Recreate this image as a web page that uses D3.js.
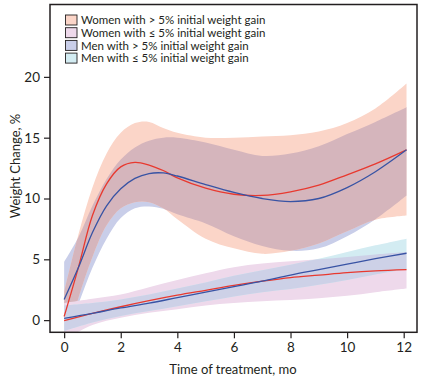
<!DOCTYPE html>
<html><head><meta charset="utf-8">
<script src="https://cdn.jsdelivr.net/npm/d3@7"></script>
<style>
html,body{margin:0;padding:0;background:#fff;}
svg text{font-family:Lato,"Open Sans",sans-serif;fill:#231f20;}
</style></head>
<body><svg id="c" width="422" height="379"></svg>
<script>
// ---- data ----
const xTicks = [0, 2, 4, 6, 8, 10, 12];
const yTicks = [0, 5, 10, 15, 20];
const seriesNames = [
  "Women with > 5% initial weight gain",
  "Women with \u2264 5% initial weight gain",
  "Men with > 5% initial weight gain",
  "Men with \u2264 5% initial weight gain"
];
// Women > 5%
const wHiT   = [0, 0.5, 1, 1.5, 2, 2.5, 3, 3.5, 4, 5, 6, 7, 8, 9, 10, 11, 12.1];
const wHiMean= [0.3, 4.3, 8.6, 11.2, 12.6, 12.97, 12.75, 12.3, 11.7, 10.85, 10.35, 10.25, 10.55, 11.1, 11.95, 12.85, 14.0];
const wHiUp  = [2.3, 7.0, 10.9, 13.7, 15.4, 16.2, 16.3, 15.8, 15.4, 15.0, 15.0, 15.1, 15.2, 15.5, 16.2, 17.4, 19.45];
const wHiLo  = [-2.5, 1.8, 5.2, 7.8, 9.2, 9.7, 9.7, 9.2, 8.3, 6.7, 5.9, 5.45, 5.7, 6.3, 7.3, 8.25, 8.6];
// Men > 5%
const mHiT   = [0, 0.5, 1, 1.5, 2, 2.5, 3, 3.5, 4, 5, 6, 7, 8, 9, 10, 11, 12.1];
const mHiMean= [1.7, 4.3, 7.2, 9.4, 10.8, 11.65, 12.05, 12.1, 11.85, 11.15, 10.5, 10.0, 9.75, 10.0, 10.9, 12.2, 14.0];
const mHiUp  = [4.8, 6.8, 9.4, 11.6, 13.2, 14.2, 14.75, 15.0, 15.0, 14.6, 14.0, 13.5, 13.7, 14.3, 15.3, 16.3, 17.5];
const mHiLo  = [-1.6, 1.3, 4.3, 6.7, 8.4, 9.2, 9.35, 9.15, 8.7, 7.95, 6.9, 6.1, 5.7, 5.9, 6.9, 8.3, 10.25];
// Women <= 5%
const wLoT   = [0, 1, 2, 3, 4, 5, 6, 7, 8, 9, 10, 11, 12.1];
const wLoMean= [-0.05, 0.55, 1.1, 1.6, 2.05, 2.45, 2.85, 3.2, 3.5, 3.7, 3.9, 4.05, 4.15];
const wLoUp  = [1.4, 1.75, 2.1, 2.7, 3.3, 3.85, 4.35, 4.65, 4.85, 5.0, 5.2, 5.4, 5.6];
const wLoLo  = [-1.6, -0.4, 0.2, 0.6, 0.9, 1.2, 1.4, 1.55, 1.65, 1.8, 2.0, 2.3, 2.6];
// Men <= 5%
const mLoT   = [0, 1, 2, 3, 4, 5, 6, 7, 8, 9, 10, 11, 12.1];
const mLoMean= [0.15, 0.55, 1.0, 1.4, 1.85, 2.3, 2.75, 3.2, 3.7, 4.15, 4.6, 5.05, 5.5];
const mLoUp  = [1.2, 1.4, 1.7, 2.1, 2.6, 3.1, 3.65, 4.1, 4.55, 5.05, 5.6, 6.15, 6.7];
const mLoLo  = [-0.9, -0.2, 0.35, 0.75, 1.15, 1.55, 1.95, 2.3, 2.55, 2.9, 3.3, 3.75, 4.2];

// ---- layout ----
const L = 50, R = 417, T = 4.5, B = 332.3;
const x = d3.scaleLinear().domain([-0.5, 12.47]).range([L, R]);
const y = d3.scaleLinear().domain([-1, 25.95]).range([B, T]);
const svg = d3.select("#c");

const col = {
  peach: "#fbd5c8", lav: "#c9cee9", mauve: "#d5b5bc",
  pink: "#eed9eb", cyan: "#d3ecf2", lowOv: "#cdd1e7",
  red: "#e8392f", blue: "#3853a4"
};

const defs = svg.append("defs");
defs.append("clipPath").attr("id", "plotClip").append("rect")
  .attr("x", L).attr("y", T).attr("width", R - L).attr("height", B - T);

function rows(t, m, u, l) { return t.map((v, i) => ({ t: v, m: m[i], u: u[i], l: l[i] })); }
const wHi = rows(wHiT, wHiMean, wHiUp, wHiLo);
const mHi = rows(mHiT, mHiMean, mHiUp, mHiLo);
const wLo = rows(wLoT, wLoMean, wLoUp, wLoLo);
const mLo = rows(mLoT, mLoMean, mLoUp, mLoLo);

const curve = d3.curveCatmullRom.alpha(0.5);
const area = d3.area().x(d => x(d.t)).y0(d => y(d.l)).y1(d => y(d.u)).curve(curve);
const line = d3.line().x(d => x(d.t)).y(d => y(d.m)).curve(curve);

defs.append("clipPath").attr("id", "clipMHi").append("path").attr("d", area(mHi));
defs.append("clipPath").attr("id", "clipWLo").append("path").attr("d", area(wLo));

const g = svg.append("g").attr("clip-path", "url(#plotClip)");
// upper bands
g.append("path").attr("d", area(mHi)).attr("fill", col.lav);
g.append("path").attr("d", area(wHi)).attr("fill", col.peach);
g.append("g").attr("clip-path", "url(#clipMHi)")
  .append("path").attr("d", area(wHi)).attr("fill", col.mauve);
// lower bands
g.append("path").attr("d", area(wLo)).attr("fill", col.pink);
g.append("path").attr("d", area(mLo)).attr("fill", col.cyan);
g.append("g").attr("clip-path", "url(#clipWLo)")
  .append("path").attr("d", area(mLo)).attr("fill", col.lowOv);
// lines
[[wHi, col.red], [mHi, col.blue], [wLo, col.red], [mLo, col.blue]].forEach(([d, c]) => {
  g.append("path").attr("d", line(d)).attr("fill", "none").attr("stroke", c).attr("stroke-width", 1.3);
});

// frame
svg.append("rect").attr("x", L).attr("y", T).attr("width", R - L).attr("height", B - T)
  .attr("fill", "none").attr("stroke", "#231f20").attr("stroke-width", 1.5);

// axes
const fs = 13.5;
const xAxis = svg.append("g").attr("transform", `translate(0,${B})`)
  .call(d3.axisBottom(x).tickValues(xTicks).tickSize(6).tickPadding(4).tickFormat(d3.format("d")));
const yAxis = svg.append("g").attr("transform", `translate(${L},0)`)
  .call(d3.axisLeft(y).tickValues(yTicks).tickSize(6).tickPadding(4).tickFormat(d3.format("d")));
[xAxis, yAxis].forEach(a => {
  a.select(".domain").remove();
  a.selectAll("line").attr("stroke", "#231f20").attr("stroke-width", 1.2);
  a.selectAll("text").attr("font-size", fs).attr("font-family", "Lato, sans-serif").attr("fill", "#231f20");
});

svg.append("text").attr("x", 233).attr("y", 374).attr("text-anchor", "middle")
  .attr("font-size", 13).text("Time of treatment, mo");
svg.append("text").attr("transform", "translate(20,166) rotate(-90)").attr("text-anchor", "middle")
  .attr("font-size", 13).text("Weight Change, %");

// legend
const legCols = [col.peach, col.pink, col.lav, col.cyan];
const leg = svg.append("g");
seriesNames.forEach((n, i) => {
  const cy = 20 + i * 12.7;
  leg.append("rect").attr("x", 65.5).attr("y", cy - 5).attr("width", 11.5).attr("height", 10)
    .attr("fill", legCols[i]).attr("stroke", "#231f20").attr("stroke-width", 0.9);
  leg.append("text").attr("x", 81).attr("y", cy + 4.2).attr("font-size", 11.5).text(n);
});
</script></body></html>
